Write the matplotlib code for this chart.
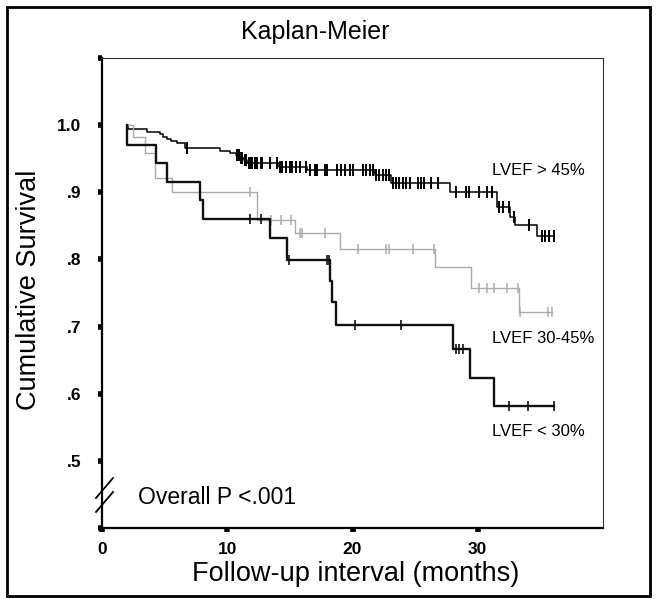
import numpy as np
import matplotlib
matplotlib.use("Agg")
import matplotlib.pyplot as plt
from matplotlib.lines import Line2D
from matplotlib.patches import Rectangle

plt.rcParams['font.family'] = ['Liberation Sans', 'DejaVu Sans']

# ---------------- data (months, cumulative survival) ----------------
start_time = 2.0

# LVEF > 45%
hi_event_t = [2.1, 3.6, 4.6, 4.9, 5.2, 5.5, 6.0, 6.6, 9.4, 10.2, 10.7, 11.0, 11.3, 11.6,
              14.1, 16.4, 21.8, 23.1, 27.8, 31.5, 32.6, 33.0, 34.7]
hi_event_s = [0.994, 0.990, 0.987, 0.982, 0.979, 0.976, 0.973, 0.966, 0.961, 0.958, 0.955,
              0.951, 0.948, 0.944, 0.938, 0.933, 0.926, 0.914, 0.900, 0.878, 0.863, 0.851, 0.835]
hi_cens_t = [6.8, 10.8, 10.9, 11.1, 11.2, 11.4, 11.5, 11.7, 11.9, 12.0, 12.2, 12.4, 12.7, 12.8,
             13.4, 14.0, 14.2, 14.4, 14.7, 15.0, 15.2, 15.5, 15.8, 16.3, 16.6, 17.0, 17.2,
             17.8, 18.0, 18.8, 19.1, 19.4, 19.8, 20.0, 20.8, 21.1, 21.4, 21.6, 21.9, 22.1,
             22.4, 22.7, 22.9, 23.2, 23.5, 23.7, 24.0, 24.3, 24.6, 25.2, 25.5, 25.7, 26.3,
             26.8, 28.3, 29.1, 29.3, 30.1, 30.7, 31.1, 31.7, 32.0, 32.5, 32.9, 34.1, 35.1,
             35.4, 35.7, 36.1]

# LVEF 30-45%
mid_event_t = [2.5, 3.4, 4.2, 5.6, 12.4, 15.4, 19.0, 26.6, 29.5, 33.3]
mid_event_s = [0.982, 0.958, 0.921, 0.900, 0.859, 0.840, 0.816, 0.788, 0.758, 0.721]
mid_cens_t = [11.8, 13.5, 14.3, 15.1, 15.8, 16.0, 17.8, 20.4, 22.7, 22.9, 24.8, 26.5,
              30.1, 30.7, 31.3, 32.3, 33.2, 33.4, 35.6, 35.9]

# LVEF < 30%
lo_event_t = [2.0, 4.3, 5.2, 7.8, 8.1, 13.4, 14.8, 18.2, 18.4, 18.7, 28.0, 29.4, 31.3]
lo_event_s = [0.970, 0.944, 0.916, 0.888, 0.860, 0.832, 0.799, 0.768, 0.737, 0.703,
              0.667, 0.624, 0.582]
lo_cens_t = [11.8, 12.7, 14.9, 18.0, 18.1, 20.2, 23.9, 28.3, 28.5, 28.8, 32.5, 34.0, 36.1]

group_labels = ["LVEF > 45%", "LVEF 30-45%", "LVEF < 30%"]
y_ticks = [0.4, 0.5, 0.6, 0.7, 0.8, 0.9, 1.0, 1.1]
y_ticklabels = ["", ".5", ".6", ".7", ".8", ".9", "1.0", ""]
x_ticks = [0, 10, 20, 30]
p_text = "Overall P <.001"

# ---------------- figure ----------------
W, H = 656, 599
fig = plt.figure(figsize=(W / 100, H / 100), dpi=100)
ax = fig.add_axes([102 / W, 1 - 528 / H, (603 - 102) / W, (528 - 58) / H])


def km_curve(ev_t, ev_s, cens_t):
    t = [start_time] + list(ev_t)
    s = [1.0] + list(ev_s)
    end = max(max(cens_t), t[-1])
    t.append(end)
    s.append(s[-1])
    t = np.array(t)
    s = np.array(s)
    ct = np.array(cens_t)
    idx = np.searchsorted(t, ct, side='right') - 1
    return t, s, ct, s[idx]


styles = [
    dict(color='#000000', lw=1.1, ms=8, mew=1.4),
    dict(color='#ababab', lw=1.0, ms=7, mew=1.1),
    dict(color='#111111', lw=1.7, ms=7, mew=1.2),
]
data = [(hi_event_t, hi_event_s, hi_cens_t),
        (mid_event_t, mid_event_s, mid_cens_t),
        (lo_event_t, lo_event_s, lo_cens_t)]
order = [1, 2, 0]
for i in order:
    t, s, ct, cs = km_curve(*data[i])
    st = styles[i]
    ax.step(t, s, where='post', color=st['color'], lw=st['lw'], zorder=3 + i)
    ax.plot(ct, cs, ls='none', marker='|', color=st['color'], ms=st['ms'],
            mew=st['mew'], zorder=3 + i)

ax.set_xlim(0, 40)
ax.set_ylim(0.4, 1.1)
ax.set_xticks(x_ticks)
ax.set_xticklabels([str(v) for v in x_ticks], fontsize=12.5, fontweight='bold')
ax.set_yticks(y_ticks)
ax.set_yticklabels(y_ticklabels, fontsize=12.5, fontweight='bold')
ax.tick_params(axis='y', direction='out', length=3, width=4, pad=12)
ax.tick_params(axis='x', direction='out', length=3, width=4, pad=7)

for side in ['left', 'bottom']:
    ax.spines[side].set_linewidth(1.6)
    ax.spines[side].set_color('black')
for side in ['top', 'right']:
    ax.spines[side].set_linewidth(0.8)
    ax.spines[side].set_color('#333333')

# group labels
ax.text(31.1, 0.933, group_labels[0], fontsize=12, va='center', ha='left')
ax.text(31.1, 0.682, group_labels[1], fontsize=12, va='center', ha='left')
ax.text(31.1, 0.544, group_labels[2], fontsize=12, va='center', ha='left')
ax.text(2.9, 0.446, p_text, fontsize=16.5, va='center', ha='left')

# axis break marks
for y0 in (498, 512):
    fig.add_artist(Line2D([96 / W, 113 / W], [1 - y0 / H, 1 - (y0 - 20) / H],
                          color='black', lw=1.3))

fig.text(315 / W, 1 - 32 / H, "Kaplan-Meier", fontsize=18, ha='center', va='center')
fig.text(29 / W, 1 - 290 / H, "Cumulative Survival", fontsize=19.5, rotation=90,
         ha='center', va='center')
fig.text(356 / W, 1 - 574 / H, "Follow-up interval (months)", fontsize=19.5,
         ha='center', va='center')

# outer frame
fig.add_artist(Rectangle((7 / W, 3 / H), (650 - 7) / W, (592 - 3) / H,
                         transform=fig.transFigure, fill=False, lw=2.0,
                         edgecolor='black'))

fig.savefig("out.png", dpi=100)
